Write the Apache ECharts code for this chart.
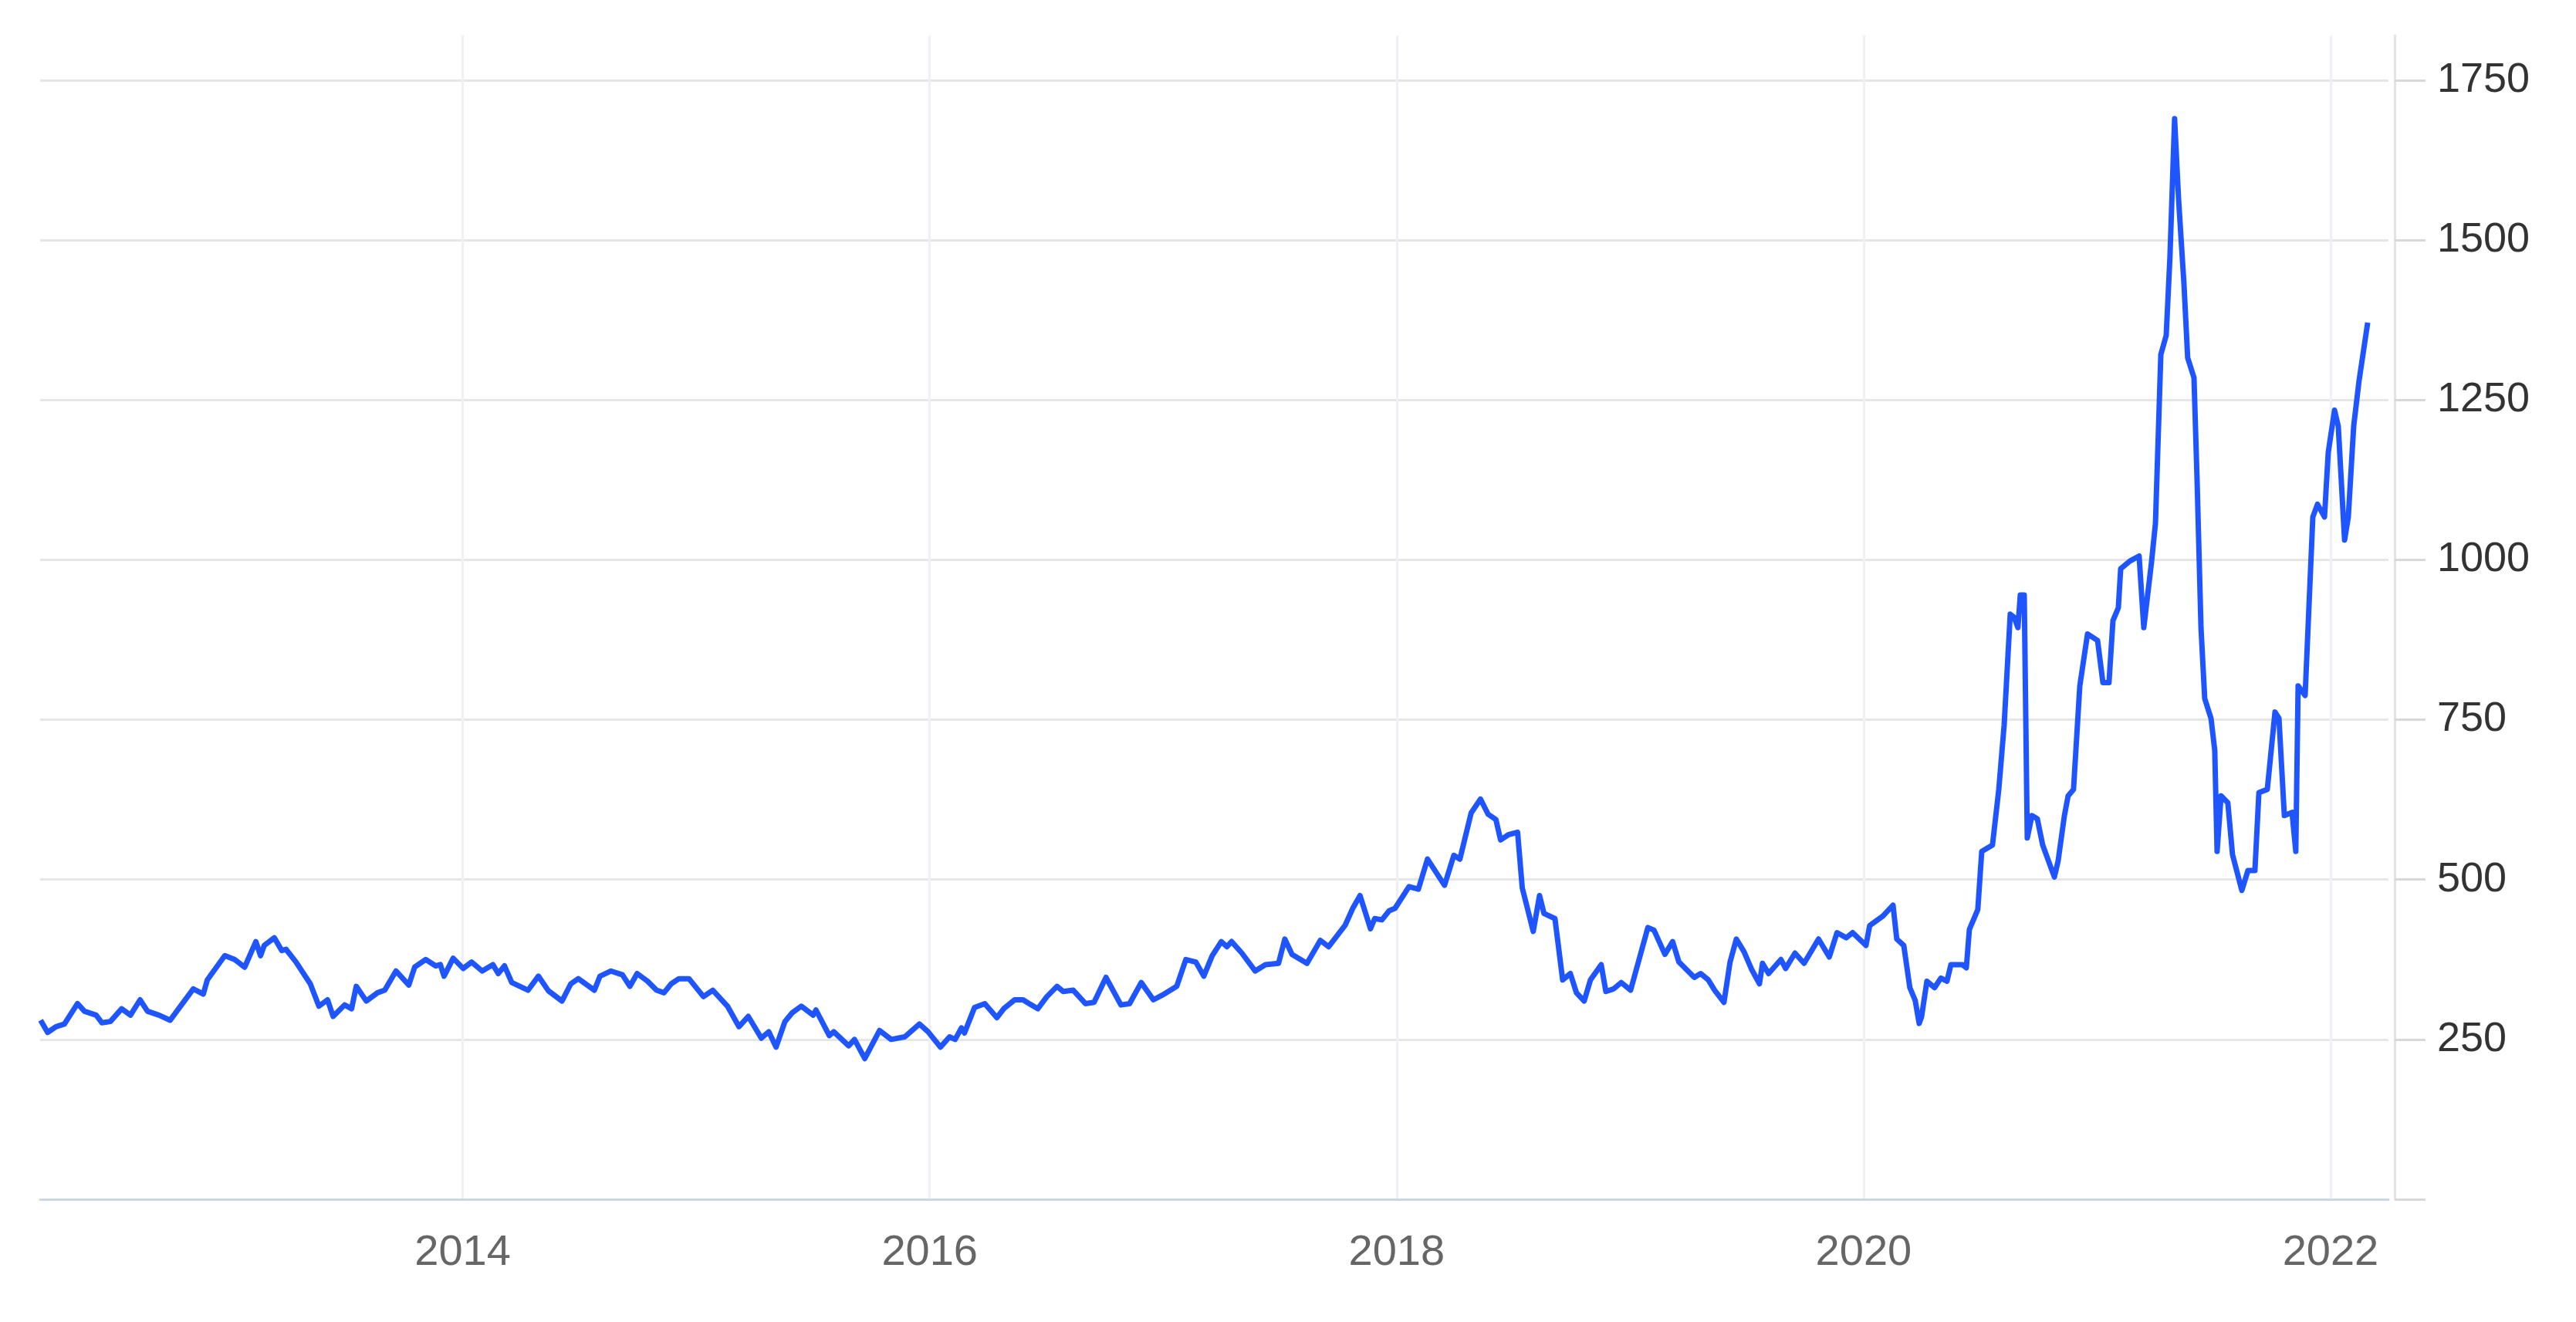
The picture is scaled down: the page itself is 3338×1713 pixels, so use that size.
<!DOCTYPE html>
<html>
<head>
<meta charset="utf-8">
<title>Price history</title>
<script src="https://cdn.jsdelivr.net/npm/echarts@6/dist/echarts.min.js"></script>
<style>
    html, body { margin: 0; padding: 0; background: #fff; }
    #chart { width: 3338px; height: 1713px; }
</style>
</head>
<body>
<div id="chart"></div>
<script>
'use strict';

// time as decimal years
let years = [
    2012.192, 2012.222, 2012.258, 2012.294, 2012.350, 2012.380, 2012.430, 2012.455, 2012.491, 2012.539,
    2012.577, 2012.618, 2012.650, 2012.699, 2012.747, 2012.783, 2012.846, 2012.889, 2012.906, 2012.981,
    2013.023, 2013.066, 2013.114, 2013.134, 2013.150, 2013.193, 2013.225, 2013.243, 2013.286, 2013.347,
    2013.384, 2013.421, 2013.445, 2013.494, 2013.524, 2013.544, 2013.587, 2013.635, 2013.666, 2013.714,
    2013.769, 2013.794, 2013.841, 2013.884, 2013.904, 2013.920, 2013.959, 2014.002, 2014.038,
    2014.083, 2014.129, 2014.152, 2014.179, 2014.210, 2014.280, 2014.324, 2014.367, 2014.425, 2014.463,
    2014.495, 2014.564, 2014.588, 2014.635, 2014.684, 2014.716, 2014.747, 2014.792, 2014.830, 2014.862,
    2014.893, 2014.926, 2014.969, 2015.031, 2015.071, 2015.134, 2015.183, 2015.223, 2015.279, 2015.311,
    2015.342, 2015.380, 2015.412, 2015.450, 2015.501, 2015.513, 2015.570, 2015.589, 2015.653, 2015.678,
    2015.722, 2015.785, 2015.835, 2015.893, 2015.956,
    2015.993, 2016.046, 2016.085, 2016.109, 2016.136, 2016.149, 2016.192, 2016.236, 2016.288, 2016.317,
    2016.364, 2016.400, 2016.426, 2016.463, 2016.502, 2016.545, 2016.572, 2016.615, 2016.667, 2016.704,
    2016.755, 2016.819, 2016.856, 2016.906, 2016.958, 2016.995, 2017.058, 2017.097, 2017.140, 2017.174,
    2017.210, 2017.249, 2017.273, 2017.293, 2017.337, 2017.394, 2017.438, 2017.494, 2017.521, 2017.552,
    2017.616, 2017.673, 2017.709, 2017.780, 2017.812, 2017.843, 2017.888, 2017.906, 2017.937,
    2017.967, 2017.993, 2018.053, 2018.093, 2018.132, 2018.205, 2018.245, 2018.271, 2018.319, 2018.359,
    2018.392, 2018.425, 2018.445, 2018.478, 2018.518, 2018.538, 2018.585, 2018.612, 2018.631, 2018.678,
    2018.711, 2018.744, 2018.770, 2018.803, 2018.830, 2018.876, 2018.896, 2018.929, 2018.962, 2019.002,
    2019.076, 2019.102, 2019.149, 2019.182, 2019.209, 2019.275, 2019.302, 2019.335, 2019.362, 2019.402,
    2019.428, 2019.455, 2019.488, 2019.521, 2019.554, 2019.567, 2019.593, 2019.646, 2019.666, 2019.706,
    2019.745, 2019.807, 2019.853, 2019.886, 2019.926, 2019.953,
    2020.010, 2020.026, 2020.083, 2020.126, 2020.142, 2020.172, 2020.198, 2020.221, 2020.238, 2020.248,
    2020.271, 2020.304, 2020.331, 2020.357, 2020.374, 2020.423, 2020.440, 2020.453, 2020.489, 2020.506,
    2020.552, 2020.579, 2020.602, 2020.628, 2020.645, 2020.661, 2020.671, 2020.688, 2020.701, 2020.721,
    2020.744, 2020.767, 2020.817, 2020.833, 2020.860, 2020.876, 2020.899, 2020.926, 2020.959, 2021.002,
    2021.025, 2021.051, 2021.068, 2021.091, 2021.101, 2021.140,
    2021.180, 2021.200, 2021.233, 2021.250, 2021.273, 2021.296, 2021.312, 2021.332, 2021.349, 2021.372,
    2021.388, 2021.415, 2021.428, 2021.445, 2021.461, 2021.488, 2021.504, 2021.514, 2021.531, 2021.560,
    2021.580, 2021.620, 2021.646, 2021.676, 2021.693, 2021.729, 2021.762, 2021.779, 2021.802, 2021.835,
    2021.851, 2021.861, 2021.891, 2021.924, 2021.944, 2021.974, 2021.990, 2022.017, 2022.033, 2022.060,
    2022.076, 2022.099, 2022.122, 2022.159,
];

let prices = [
    280, 261, 270, 274, 306, 294, 288, 276, 278, 298,
    288, 312, 294, 288, 280, 298, 329, 321, 343, 381,
    375, 363, 403, 381, 397, 409, 389, 391, 371, 337,
    302, 312, 286, 304, 298, 333, 310, 323, 327, 357,
    335, 363, 375, 365, 367, 349, 377, 361, 371,
    357, 367, 353, 365, 339, 327, 349, 326, 310, 337,
    345, 327, 349, 357, 351, 333, 353, 341, 327, 323,
    337, 345, 345, 317, 327, 302, 270, 286, 252, 262,
    238, 278, 292, 302, 288, 296, 256, 262, 240, 250,
    220, 264, 250, 254, 274,
    262, 238, 254, 250, 268, 260, 300, 306, 284, 298,
    312, 312, 306, 298, 317, 333, 325, 327, 306, 308,
    347, 304, 306, 339, 312, 319, 333, 375, 371, 349,
    381, 403, 395, 403, 385, 357, 367, 369, 407, 383,
    369, 405, 395, 429, 455, 475, 423, 439, 437,
    451, 455, 489, 485, 532, 491, 538, 532, 604, 626,
    602, 594, 562, 570, 574, 487, 419, 475, 447, 439,
    343, 353, 323, 310, 343, 367, 325, 329, 339, 327,
    425, 421, 383, 403, 371, 347, 353, 343, 327, 308,
    371, 407, 387, 359, 337, 369, 353, 375, 361, 385,
    369, 407, 379, 417, 409, 417,
    397, 428, 443, 460, 407, 397, 331, 311, 275, 285,
    341, 331, 346, 341, 367, 367, 362, 422, 453, 544,
    554, 641, 742, 915, 910, 894, 945, 945, 565, 600,
    595, 554, 504, 529, 600, 631, 641, 803, 884, 874,
    808, 808, 905, 925, 986, 998,
    1006, 894, 996, 1057, 1321, 1351, 1473, 1690, 1564, 1432,
    1316, 1285, 1128, 894, 783, 752, 702, 544, 631, 620,
    539, 483, 514, 514, 636, 641, 762, 752, 600, 605,
    544, 803, 788, 1067, 1087, 1067, 1168, 1234, 1209, 1031,
    1067, 1209, 1280, 1371,
];

let yearTicks = [2014, 2016, 2018, 2020, 2022];
let priceTicks = [0, 250, 500, 750, 1000, 1250, 1500, 1750];
let priceLabels = [250, 500, 750, 1000, 1250, 1500, 1750];

let myChart = echarts.init(document.getElementById('chart'));

let seriesData = [];
for (let i = 0; i < years.length; i++) {
    seriesData.push([years[i], prices[i]]);
}

let option = {
    backgroundColor: '#ffffff',
    animation: false,
    grid: {
        left: 52,
        right: 243,
        top: 46,
        bottom: 159,
        containLabel: false,
    },
    xAxis: {
        type: 'value',
        min: 2012.19,
        max: 2022.248,
        axisLine: {
            show: true,
            lineStyle: { color: '#ccd6eb', width: 3 },
        },
        axisTick: {
            show: false,
            customValues: yearTicks,
        },
        axisLabel: {
            customValues: yearTicks,
            color: '#666666',
            fontSize: 56,
            fontFamily: 'Liberation Sans, Arial, sans-serif',
            margin: 42,
            formatter: function(v) {
                return String(Math.round(v));
            },
        },
        splitLine: {
            show: true,
            lineStyle: { color: '#edf1f5', width: 3 },
        },
    },
    yAxis: {
        type: 'value',
        position: 'right',
        offset: 8,
        min: 0,
        max: 1820,
        axisLine: {
            show: true,
            lineStyle: { color: '#e3e3e3', width: 3 },
        },
        axisTick: {
            show: true,
            length: 40,
            customValues: priceTicks,
            lineStyle: { color: '#d8d8d8', width: 3 },
        },
        axisLabel: {
            customValues: priceLabels,
            color: '#333333',
            fontSize: 54,
            fontFamily: 'Liberation Sans, Arial, sans-serif',
            margin: 55,
            formatter: function(v) {
                return String(v);
            },
        },
        splitLine: {
            show: true,
            lineStyle: { color: '#e6e6e6', width: 3 },
        },
    },
    series: [
        {
            type: 'line',
            data: seriesData,
            showSymbol: false,
            symbol: 'none',
            clip: true,
            lineStyle: { color: '#1f55ff', width: 7, join: 'round' },
        },
    ],
};

myChart.setOption(option);
</script>
</body>
</html>
